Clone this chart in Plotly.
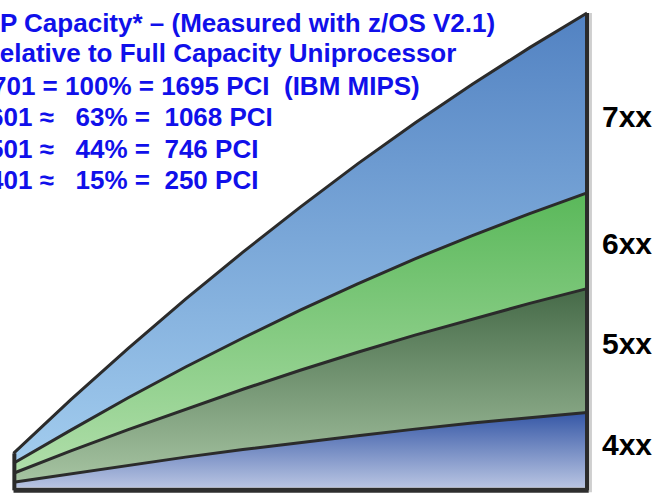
import plotly.graph_objects as go

# ---- data (relative capacity, % of full-capacity 7xx uniprocessor) ----
x_vals = [0, 10, 20, 30, 40, 50, 60, 70, 80, 90, 100]
band_4xx = [1.1, 2.9, 4.7, 6.4, 8.0, 9.5, 10.9, 12.3, 13.6, 14.7, 15.8]
band_5xx = [1.9, 4.8, 7.5, 10.1, 12.7, 15.2, 17.6, 19.8, 21.9, 24.1, 26.1]
band_6xx = [2.1, 4.4, 6.7, 8.9, 10.8, 12.7, 14.4, 16.1, 17.6, 18.9, 20.2]
band_7xx = [2.1, 6.4, 10.4, 14.3, 18.1, 21.7, 25.3, 28.6, 31.9, 35.0, 37.9]

band_names = ["4xx", "5xx", "6xx", "7xx"]
band_values = [band_4xx, band_5xx, band_6xx, band_7xx]
band_colors = [  # (bottom, top)
    ("#b8c4e2", "#3557a6"),
    ("#a6c4a2", "#466a48"),
    ("#b0deaa", "#5ab85a"),
    ("#a2ccee", "#5282c2"),
]

title_lines = [
    "P Capacity* \u2013 (Measured with z/OS V2.1)",
    "Relative to Full Capacity Uniprocessor",
    "701 = 100% = 1695 PCI\u00a0\u00a0(IBM MIPS)",
    "601 \u2248\u00a0\u00a0\u00a063% =\u00a0\u00a01068 PCI",
    "501 \u2248\u00a0\u00a0\u00a044% =\u00a0\u00a0746 PCI",
    "401 \u2248\u00a0\u00a0\u00a015% =\u00a0\u00a0250 PCI",
]

W, H = 658, 493
ML, MR, MT, MB = 10, 66, 8, 0
PW, PH = W - ML - MR, H - MT - MB

def px_x(px):
    return (px - ML) / PW

def px_y(py):
    return (H - MB - py) / PH

fig = go.Figure()

lower = [0.0] * len(x_vals)
for name, vals, (c_lo, c_hi) in zip(band_names, band_values, band_colors):
    upper = [a + b for a, b in zip(lower, vals)]
    fig.add_trace(go.Scatter(
        x=x_vals, y=vals, name=name, stackgroup="one", mode="lines",
        line=dict(color="#2b2b2b", width=3),
        fillgradient=dict(type="vertical", colorscale=[[0, c_lo], [1, c_hi]],
                          start=min(lower), stop=max(upper)),
        hoverinfo="skip",
    ))
    lower = upper

total = lower
shapes = [
    # right edge shadow
    dict(type="line", xref="x", yref="y", x0=100.6, x1=100.6, y0=-1, y1=total[-1],
         line=dict(color="#cfcfcf", width=3), layer="above"),
    # right edge
    dict(type="line", xref="x", yref="y", x0=100, x1=100, y0=-0.6, y1=total[-1],
         line=dict(color="#2b2b2b", width=4), layer="above"),
    # left edge
    dict(type="line", xref="x", yref="y", x0=0.15, x1=0.15, y0=-0.6, y1=total[0],
         line=dict(color="#2b2b2b", width=4), layer="above"),
    # baseline
    dict(type="line", xref="x", yref="y", x0=0, x1=100.3, y0=-0.6, y1=-0.6,
         line=dict(color="#2e2e2e", width=5), layer="above"),
]

annotations = []
line_x = [-2.5, -20.8, -10.2, -13.5, -13.5, -13.0]
line_y = [22.5, 52.5, 86, 117.5, 149, 180.5]
for txt, lx, ly in zip(title_lines, line_x, line_y):
    annotations.append(dict(
        text="<b>" + txt + "</b>", xref="paper", yref="paper",
        x=px_x(lx), y=px_y(ly), xanchor="left", yanchor="middle",
        showarrow=False, font=dict(family="Arial, Liberation Sans", size=26, color="#1010ea"),
    ))

label_y = [116, 243, 343, 444]
for name, ly in zip(band_names[::-1], label_y):
    annotations.append(dict(
        text="<b>" + name + "</b>", xref="paper", yref="paper",
        x=px_x(600), y=px_y(ly), xanchor="left", yanchor="middle",
        showarrow=False, font=dict(family="Arial, Liberation Sans", size=30, color="#000000"),
    ))

fig.update_layout(
    width=W, height=H,
    margin=dict(l=ML, r=MR, t=MT, b=MB, pad=0),
    paper_bgcolor="white", plot_bgcolor="white",
    showlegend=False,
    xaxis=dict(range=[-0.61, 100.87], visible=False, fixedrange=True),
    yaxis=dict(range=[-1.16, 101.05], visible=False, fixedrange=True),
    shapes=shapes, annotations=annotations,
)

fig.write_html("out.html", config=dict(displayModeBar=False))
